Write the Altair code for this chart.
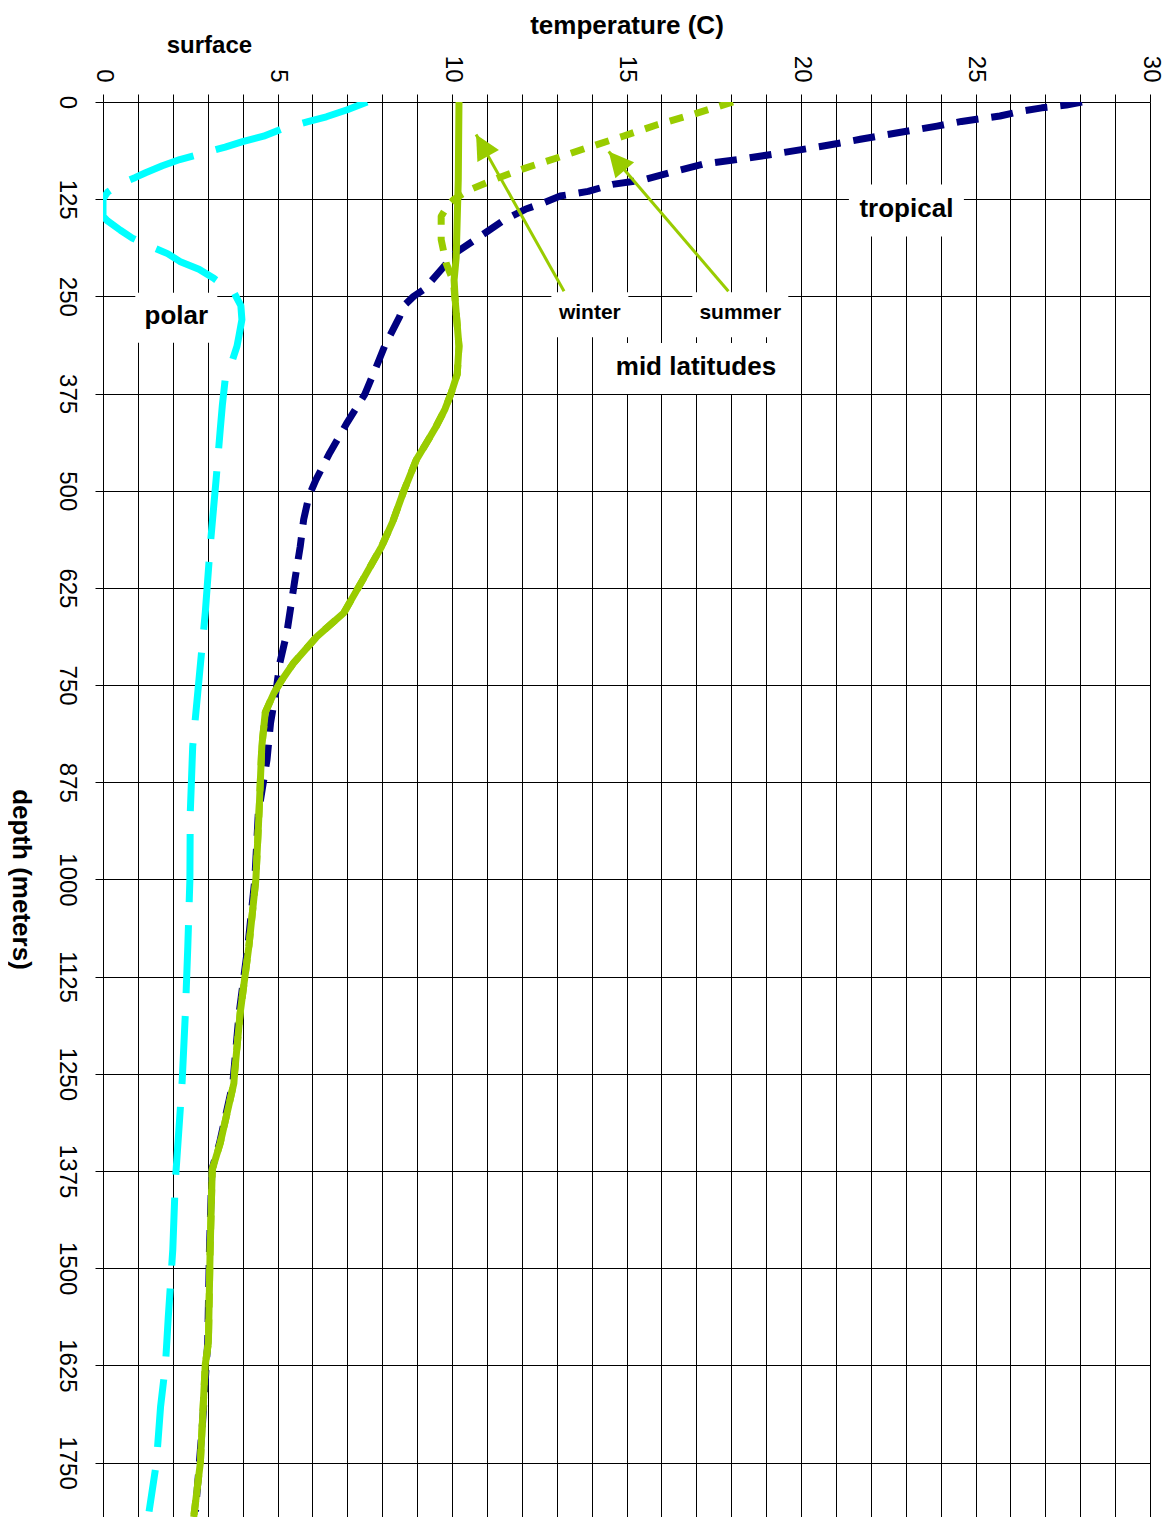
import math
import altair as alt
import pandas as pd

# ---------------- data ----------------
temp_ticks = list(range(0, 31))
depth_ticks = list(range(0, 1751, 125))

polar_depth = [0, 10, 19, 25, 35, 44, 51, 58, 65, 74, 82, 91, 97, 106, 116, 125, 147, 153, 165,
               175, 186, 195, 205, 215, 226, 237, 245, 262, 280, 300, 314, 340, 357, 390, 421,
               486, 572, 657, 743, 829, 915, 1000, 1086, 1172, 1258, 1305, 1390, 1476, 1563,
               1624, 1678, 1750, 1813]
polar_temp = [7.57, 7.0, 6.4, 5.9, 5.1, 4.6, 4.0, 3.5, 2.94, 2.2, 1.7, 1.22, 0.93, 0.45, 0.13, 0.0,
              0.0, 0.13, 0.5, 0.84, 1.37, 1.85, 2.2, 2.75, 3.15, 3.5, 3.75, 3.95, 3.98, 3.9, 3.84,
              3.65, 3.5, 3.42, 3.36, 3.24, 3.07, 2.93, 2.75, 2.57, 2.5, 2.49, 2.43, 2.36, 2.27,
              2.2, 2.07, 2.0, 1.87, 1.79, 1.65, 1.53, 1.32]

tropical_depth = [0, 4, 7.5, 12, 18, 25, 31, 42, 48, 57, 65, 72, 80, 89, 100, 106, 115, 121, 130,
                  138, 153, 173, 194, 215, 241, 250, 263, 276, 314, 344, 376, 412, 451, 486, 507,
                  537, 572, 614, 682, 721, 760, 799, 846, 915, 1000, 1086, 1172, 1262, 1339, 1373,
                  1476, 1596, 1700, 1813]
tropical_temp = [28.05, 27.6, 26.9, 26.3, 25.7, 24.6, 23.9, 22.45, 21.7, 20.6, 19.5, 18.5, 17.2,
                 16.4, 15.5, 14.6, 13.9, 13.1, 12.6, 12.1, 11.45, 10.8, 10.1, 9.7, 9.2, 8.9, 8.6,
                 8.5, 8.07, 7.8, 7.5, 7.0, 6.5, 6.1, 5.9, 5.75, 5.65, 5.5, 5.27, 5.07, 4.95, 4.8,
                 4.7, 4.45, 4.35, 4.15, 3.9, 3.72, 3.34, 3.12, 3.05, 3.0, 2.85, 2.65]

winter_depth = [0, 100, 200, 229, 260, 314, 350, 374, 395, 417, 440, 460, 499, 540, 572, 614, 657,
                688, 721, 743, 760, 785, 829, 915, 1000, 1086, 1172, 1249, 1262, 1339, 1373, 1476,
                1596, 1624, 1750, 1820]
winter_temp = [10.2, 10.18, 10.12, 10.06, 10.1, 10.2, 10.15, 9.98, 9.8, 9.55, 9.25, 8.98, 8.63,
               8.3, 7.98, 7.45, 6.9, 6.12, 5.47, 5.13, 4.9, 4.65, 4.55, 4.47, 4.38, 4.18, 3.93,
               3.77, 3.75, 3.36, 3.13, 3.07, 3.02, 2.93, 2.79, 2.6]

# summer profile: visible upper part; below ~260 m it runs under the winter profile
summer_depth = [0, 16, 29, 44, 57, 72, 85, 98, 113, 125, 132, 147, 177, 207, 224, 240, 260, 314,
                350, 374, 395, 417, 440, 460, 499, 540, 572, 614, 657, 688, 721, 743, 760, 785,
                829, 915, 1000, 1086, 1172, 1249, 1262, 1339, 1373, 1476, 1596, 1624, 1750, 1820]
summer_temp = [18.05, 16.9, 15.9, 14.9, 14.0, 13.0, 12.1, 11.3, 10.5, 10.06, 9.9, 9.69, 9.69, 9.83,
               9.98, 10.06, 10.1, 10.2, 10.15, 9.98, 9.8, 9.55, 9.25, 8.98, 8.63, 8.3, 7.98, 7.45,
               6.9, 6.12, 5.47, 5.13, 4.9, 4.65, 4.55, 4.47, 4.38, 4.18, 3.93, 3.77, 3.75, 3.36,
               3.13, 3.07, 3.02, 2.93, 2.79, 2.6]

# annotations (in temperature / depth coordinates)
label_names = ["tropical", "polar", "mid latitudes", "winter", "summer", "surface"]
label_temp = [23.02, 2.10, 16.99, 13.95, 18.26, 3.05]
label_depth = [137.0, 275.0, 340.3, 271.0, 271.0, -72.0]

arrow_names = ["winter", "summer"]
arrow_from_temp = [13.21, 17.92]
arrow_from_depth = [243.4, 243.4]
arrow_to_temp = [10.69, 14.49]
arrow_to_depth = [41.8, 63.7]

# ---------------- layout / style ----------------
W, H = 1047, 1415
T_MAX, D_MAX = 30, 1820
FONT = "Liberation Sans"
GREEN = "#99CC00"
NAVY = "#000080"
CYAN = "#00FFFF"
LINE_W = 7

x_scale = alt.Scale(domain=[0, T_MAX], nice=False, zero=False)
y_scale = alt.Scale(domain=[0, D_MAX], nice=False, zero=False, reverse=True)

x_axis = alt.Axis(
    orient="top", values=temp_ticks,
    labelExpr="datum.value % 5 == 0 ? datum.label : ''",
    grid=True, gridColor="#000000", gridWidth=1, gridOpacity=1,
    ticks=True, tickSize=8, tickColor="#000000", tickWidth=1,
    domain=False, labelAngle=90, labelAlign="right", labelBaseline="middle",
    labelPadding=12, labelFont=FONT, labelFontSize=24, labelColor="#000000",
    labelOverlap=False, labelFlush=False,
    title="temperature (C)", titleFont=FONT, titleFontSize=26, titleFontWeight="bold",
    titleColor="#000000", titleY=-69, titleX=W / 2, titleBaseline="alphabetic",
    titleAlign="center",
)
y_axis = alt.Axis(
    orient="left", values=depth_ticks, format="d",
    grid=True, gridColor="#000000", gridWidth=1, gridOpacity=1,
    ticks=True, tickSize=8, tickColor="#000000", tickWidth=1,
    domain=False, labelAngle=90, labelAlign="center", labelBaseline="top",
    labelPadding=17, labelFont=FONT, labelFontSize=24, labelColor="#000000",
    labelOverlap=False, labelFlush=False,
    title="depth (meters)", titleFont=FONT, titleFontSize=26, titleFontWeight="bold",
    titleColor="#000000", titleAngle=90, titleX=-91, titleY=777,
    titleBaseline="alphabetic", titleAlign="center",
)


def X(field):
    return alt.X(field, type="quantitative", scale=x_scale, axis=x_axis)


def Y(field):
    return alt.Y(field, type="quantitative", scale=y_scale, axis=y_axis)


def sdf(depth, temp):
    return pd.DataFrame({"depth": depth, "temp": temp, "idx": list(range(len(depth)))})


def line_layer(depth, temp, color, dash=None):
    kw = dict(color=color, strokeWidth=LINE_W, strokeJoin="round", clip=True)
    if dash:
        kw["strokeDash"] = dash
    return alt.Chart(sdf(depth, temp)).mark_line(**kw).encode(
        x=X("temp"), y=Y("depth"), order="idx:Q",
    )


polar = line_layer(polar_depth, polar_temp, CYAN, [68, 23])
tropical = line_layer(tropical_depth, tropical_temp, NAVY, [22, 13])
summer = line_layer(summer_depth, summer_temp, GREEN, [14, 12])
winter = line_layer(winter_depth, winter_temp, GREEN)

lbl = pd.DataFrame({"name": label_names, "temp": label_temp, "depth": label_depth})

box_sizes = {"tropical": (115, 52), "polar": (82, 50), "mid latitudes": (183, 51),
             "winter": (77, 45), "summer": (96, 45)}
font_sizes = {"tropical": 26, "polar": 26, "mid latitudes": 26, "winter": 21,
              "summer": 21, "surface": 24}

boxes = []
texts = []
for name in label_names:
    base = alt.Chart(lbl).transform_filter(alt.datum.name == name)
    if name in box_sizes:
        bw, bh = box_sizes[name]
        boxes.append(base.mark_rect(color="#FFFFFF", width=bw, height=bh, yOffset=2)
                     .encode(x=X("temp"), y=Y("depth")))
    texts.append(base.mark_text(font=FONT, fontSize=font_sizes[name], fontWeight="bold",
                                color="#000000", align="center", baseline="middle")
                 .encode(x=X("temp"), y=Y("depth"), text="name:N"))

px_t = W / T_MAX
px_d = H / D_MAX
angles = []
for ft, fd, tt, td in zip(arrow_from_temp, arrow_from_depth, arrow_to_temp, arrow_to_depth):
    dx = (tt - ft) * px_t
    dy = (td - fd) * px_d
    angles.append((math.degrees(math.atan2(dx, -dy)) + 360) % 360)

arr = pd.DataFrame({"name": arrow_names, "ft": arrow_from_temp, "fd": arrow_from_depth,
                    "tt": arrow_to_temp, "td": arrow_to_depth, "angle": angles})

arrow_lines = alt.Chart(arr).mark_rule(color=GREEN, strokeWidth=3).encode(
    x=X("ft"), y=Y("fd"), x2="tt:Q", y2="td:Q",
)
arrow_heads = alt.Chart(arr).mark_point(
    shape="M0,0L0.95,1.9L-0.95,1.9Z", filled=True, size=676, color=GREEN, opacity=1,
    strokeWidth=0,
).encode(
    x=X("tt"), y=Y("td"),
    angle=alt.Angle("angle:Q", scale=None),
)

chart = alt.layer(
    polar, tropical, summer, winter, *boxes, *texts, arrow_lines, arrow_heads
).properties(
    width=W, height=H,
    autosize=alt.AutoSizeParams(type="none"),
    padding={"left": 95, "top": 94, "right": 14, "bottom": 0},
).configure(font=FONT).configure_view(strokeWidth=0)

chart.save("out.html", embed_options={"renderer": "svg", "actions": False})
